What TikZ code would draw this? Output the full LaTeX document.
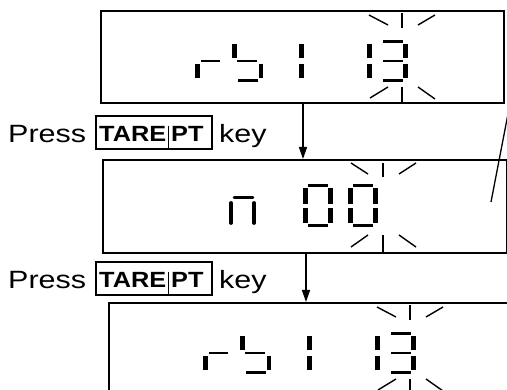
\documentclass[tikz,border=0pt]{standalone}
\usepackage{fontspec}
\setmainfont[FakeStretch=1.22]{Liberation Sans}
\newfontfamily\keyfont[FakeStretch=1.15]{Liberation Sans}
\usetikzlibrary{arrows.meta}
\newcommand\dseg[4]{\fill (#1,#2) rectangle (#3,#4);}
\newcommand\lcdRbone{%
  % r
  \dseg{195}{64}{200}{78}\dseg{201}{60}{220}{62.5}
  % b
  \dseg{232}{44}{237}{58}\dseg{237}{60}{257}{62.5}\dseg{259}{64}{263}{78}\dseg{238}{79}{258}{82}
  % 1
  \dseg{299}{44}{304}{58}\dseg{299}{64}{304}{78}
  % 1
  \dseg{367}{44}{372}{58}\dseg{367}{64}{372}{78}
  % 3
  \dseg{383}{40}{403}{43}\dseg{383}{60}{403}{62.5}\dseg{383}{79}{403}{82}
  \dseg{403}{44}{408}{58}\dseg{403}{64}{408}{78}
  % blink rays
  \draw[ray] (369,15) -- (388,25);
  \draw[ray] (402,13) -- (402,28);
  \draw[ray] (418,25) -- (435,15);
  \draw[ray] (370,98) -- (388,87);
  \draw[ray] (402,87) -- (402,102);
  \draw[ray] (418,87) -- (435,99);
}
\begin{document}
\begin{tikzpicture}[x=1pt,y=-1pt,
  lcd/.style={draw, line width=1.6pt, inner sep=0pt, anchor=north west},
  ray/.style={line width=1.4pt},
  conn/.style={line width=1.5pt, -{Triangle[length=12pt,width=8pt]}},
  keybox/.style={draw, line width=1.4pt, inner sep=0pt, minimum width=116pt, minimum height=33pt},
  lbl/.style={anchor=base west, inner sep=0pt, font=\fontsize{25}{30}\selectfont},
  keytxt/.style={anchor=base west, inner sep=0pt, font=\keyfont\bfseries\fontsize{22}{26}\selectfont}]
\path[use as bounding box, clip] (0,0) rectangle (507,390);

% display boxes
\node[lcd, minimum width=403pt, minimum height=92pt] (d1) at (100,10) {};
\node[lcd, minimum width=404pt, minimum height=93pt] (d2) at (102,159) {};
\node[lcd, minimum width=403pt, minimum height=92pt] (d3) at (108,302) {};

% box 1 contents
\lcdRbone
% box 3 contents
\begin{scope}[shift={(8,292)}]
\lcdRbone
\end{scope}

% box 2 contents: n 00
\draw[line width=2.6pt, line cap=round] (234,197.5) -- (253,197.5);
\draw[line width=3.8pt, line cap=round] (231,203) -- (231,223);
\draw[line width=3.8pt, line cap=round] (254,203) -- (254,223);
\foreach \dx in {0,45}{
  \begin{scope}[xshift=\dx]
  \dseg{308}{184.5}{328}{187.5}\dseg{308}{224}{328}{227}
  \dseg{303}{188}{308}{204}\dseg{303}{208}{308}{223}
  \dseg{328}{188}{333}{204}\dseg{328}{208}{333}{223}
  \end{scope}
}
\draw[ray] (351,163) -- (368,174);
\draw[ray] (383,163) -- (383,177);
\draw[ray] (399,174) -- (416,163);
\draw[ray] (351,247) -- (368,235);
\draw[ray] (383,235) -- (383,252);
\draw[ray] (399,235) -- (416,247);

% connectors
\coordinate (a1) at (303,0);
\coordinate (a2) at (306,0);
\draw[conn] (d1.south -| a1) -- (d2.north -| a1);
\draw[conn] (d2.south -| a2) -- (d3.north -| a2);

% pointer line at right
\coordinate (q1) at (508,114);
\coordinate (q2) at (491,202);
\draw[line width=1.3pt] (q1) -- (q2);

% label 1
\node[lbl] (p1) at (8,143) {Press};
\node[keybox] (k1) at (154,132.5) {};
\node[keytxt] (t1) at (99,142) {TARE};
\node[keytxt] (pt1) at (171,142) {PT};
\coordinate (v1) at (168,126);
\draw[line width=0.8pt] (v1) -- (v1 |- k1.south);
\node[lbl] (ky1) at (219,143) {key};

% label 2
\node[lbl] (p2) at (8,289) {Press};
\node[keybox] (k2) at (154,278.5) {};
\node[keytxt] (t2) at (99,288) {TARE};
\node[keytxt] (pt2) at (171,288) {PT};
\coordinate (v2) at (168,272);
\draw[line width=0.8pt] (v2) -- (v2 |- k2.south);
\node[lbl] (ky2) at (219,289) {key};
\end{tikzpicture}
\end{document}
